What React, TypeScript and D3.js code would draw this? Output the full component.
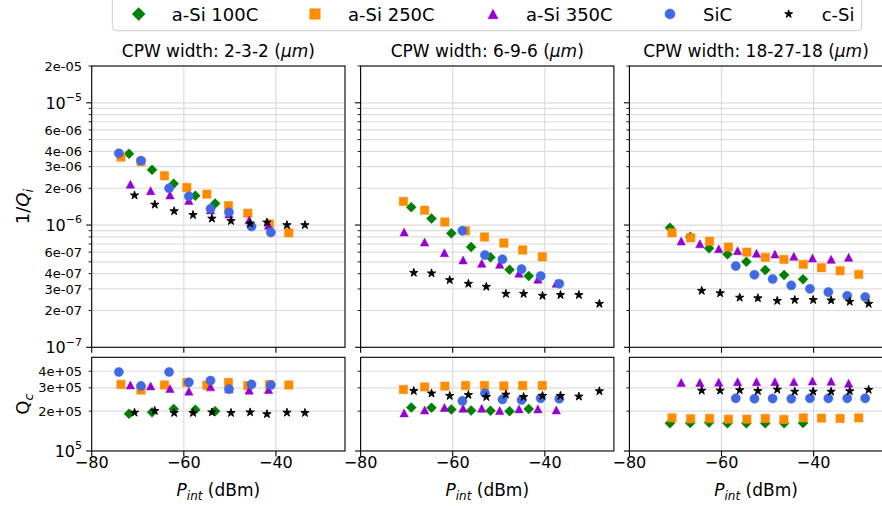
import React from 'react';
import * as d3 from 'd3';

// ---------- data ----------
const panelWidths = ['2-3-2', '6-9-6', '18-27-18'];
const seriesNames = ['a-Si 100C', 'a-Si 250C', 'a-Si 350C', 'SiC', 'c-Si'];
const seriesColors = ['#008000', '#ff8c00', '#9400d3', '#4169e1', '#000000'];
const seriesShapes = ['diamond', 'square', 'triangle', 'circle', 'star'];

const xTicks = [-80, -60, -40];
const invQiMajorTicks = [1e-7, 1e-6, 1e-5];
const invQiMinorLabels = [2e-7, 3e-7, 4e-7, 6e-7, 2e-6, 3e-6, 4e-6, 6e-6, 2e-5];
const invQiMinorLabelText = ['2e-07', '3e-07', '4e-07', '6e-07', '2e-06', '3e-06', '4e-06', '6e-06', '2e-05'];
const qcMajorTicks = [1e5];
const qcMinorTicks = [2e5, 3e5, 4e5];
const qcMinorLabelText = ['2e+05', '3e+05', '4e+05'];

// a-Si 100C
const aSi100C_P = [
  [-71.9, -66.9, -62.2, -57.5, -53.2],
  [-69.0, -64.6, -60.3, -56.0, -51.8, -47.65, -43.5],
  [-71.2, -66.8, -62.7, -58.7, -54.6, -50.5, -46.4, -42.3],
];
const aSi100C_invQi = [
  [3.83e-6, 2.83e-6, 2.18e-6, 1.74e-6, 1.5e-6],
  [1.4e-6, 1.13e-6, 0.855e-6, 0.661e-6, 0.545e-6, 0.431e-6, 0.383e-6],
  [0.95e-6, 0.802e-6, 0.645e-6, 0.576e-6, 0.5e-6, 0.428e-6, 0.39e-6, 0.36e-6],
];
const aSi100C_Qc = [
  [1.91e5, 1.96e5, 2.08e5, 2.05e5, 2.0e5],
  [2.13e5, 2.12e5, 2.06e5, 2.02e5, 2.01e5, 2.0e5, 2.08e5],
  [1.62e5, 1.63e5, 1.64e5, 1.62e5, 1.62e5, 1.62e5, 1.62e5, 1.63e5],
];

// a-Si 250C
const aSi250C_P = [
  [-73.65, -69.3, -64.2, -59.35, -55.0, -50.3, -46.1, -41.4, -37.2],
  [-70.7, -66.1, -61.7, -57.2, -53.1, -48.9, -44.8, -40.55],
  [-70.75, -66.7, -62.6, -58.5, -54.5, -50.5, -46.45, -42.25, -38.3, -34.25, -30.2],
];
const aSi250C_invQi = [
  [3.6e-6, 3.3e-6, 2.53e-6, 2.03e-6, 1.79e-6, 1.44e-6, 1.25e-6, 1.02e-6, 0.865e-6],
  [1.56e-6, 1.32e-6, 1.06e-6, 0.898e-6, 0.798e-6, 0.713e-6, 0.625e-6, 0.55e-6],
  [0.865e-6, 0.787e-6, 0.736e-6, 0.661e-6, 0.601e-6, 0.544e-6, 0.524e-6, 0.477e-6, 0.448e-6, 0.423e-6, 0.395e-6],
];
const aSi250C_Qc = [
  [3.18e5, 2.88e5, 3.15e5, 3.29e5, 3.14e5, 3.29e5, 3.12e5, 3.18e5, 3.15e5],
  [2.91e5, 3.05e5, 3.09e5, 3.12e5, 3.12e5, 3.1e5, 3.12e5, 3.12e5],
  [1.78e5, 1.75e5, 1.76e5, 1.74e5, 1.74e5, 1.76e5, 1.73e5, 1.78e5, 1.77e5, 1.76e5, 1.78e5],
];

// a-Si 350C
const aSi350C_P = [
  [-71.6, -67.2, -63.0, -58.9, -54.2, -50.2, -45.8, -41.6],
  [-70.55, -66.1, -61.8, -57.75, -53.7, -49.8, -45.6, -41.5, -37.5],
  [-68.75, -64.7, -60.6, -56.5, -52.4, -48.4, -44.3, -40.25, -36.2, -32.4],
];
const aSi350C_invQi = [
  [2.16e-6, 1.91e-6, 1.76e-6, 1.59e-6, 1.33e-6, 1.23e-6, 1.1e-6, 0.995e-6],
  [0.877e-6, 0.726e-6, 0.594e-6, 0.518e-6, 0.486e-6, 0.477e-6, 0.403e-6, 0.36e-6, 0.334e-6],
  [0.74e-6, 0.703e-6, 0.64e-6, 0.617e-6, 0.587e-6, 0.579e-6, 0.555e-6, 0.537e-6, 0.524e-6, 0.544e-6],
];
const aSi350C_Qc = [
  [3.15e5, 3.1e5, 2.96e5, 2.83e5, 3.05e5, 2.95e5, 2.88e5, 2.91e5],
  [1.94e5, 2.04e5, 2.13e5, 2.1e5, 2.1e5, 2.02e5, 2.08e5, 2.08e5, 2.04e5],
  [3.29e5, 3.29e5, 3.31e5, 3.34e5, 3.34e5, 3.34e5, 3.34e5, 3.38e5, 3.36e5, 3.25e5],
];

// SiC
const SiC_P = [
  [-74.1, -69.3, -63.2, -58.9, -54.2, -50.2, -45.3, -41.1],
  [-57.9, -53.0, -49.2, -45.05, -40.9, -36.85],
  [-56.9, -52.85, -48.9, -44.85, -40.8, -36.8, -32.7, -28.8],
];
const SiC_invQi = [
  [3.86e-6, 3.36e-6, 2.0e-6, 1.72e-6, 1.36e-6, 1.27e-6, 0.975e-6, 0.87e-6],
  [0.898e-6, 0.568e-6, 0.525e-6, 0.436e-6, 0.383e-6, 0.331e-6],
  [0.462e-6, 0.392e-6, 0.362e-6, 0.321e-6, 0.301e-6, 0.283e-6, 0.264e-6, 0.258e-6],
];
const SiC_Qc = [
  [3.95e5, 3.1e5, 3.95e5, 3.3e5, 3.4e5, 2.93e5, 3.18e5, 3.15e5],
  [2.39e5, 2.73e5, 2.45e5, 2.43e5, 2.5e5, 2.48e5],
  [2.5e5, 2.48e5, 2.49e5, 2.48e5, 2.5e5, 2.5e5, 2.5e5, 2.5e5],
];

// c-Si
const cSi_P = [
  [-70.7, -66.3, -62.1, -58.0, -53.9, -49.75, -45.6, -41.95, -37.6, -33.7],
  [-68.45, -64.6, -60.65, -56.6, -52.7, -48.45, -44.6, -40.5, -36.6, -32.6, -28.15],
  [-64.3, -60.3, -56.05, -52.1, -47.9, -44.1, -40.1, -36.2, -32.15, -28.05],
];
const cSi_invQi = [
  [1.75e-6, 1.47e-6, 1.3e-6, 1.21e-6, 1.13e-6, 1.08e-6, 1.03e-6, 1.05e-6, 1.0e-6, 1.0e-6],
  [0.407e-6, 0.403e-6, 0.355e-6, 0.331e-6, 0.313e-6, 0.274e-6, 0.274e-6, 0.264e-6, 0.268e-6, 0.268e-6, 0.227e-6],
  [0.29e-6, 0.277e-6, 0.255e-6, 0.252e-6, 0.24e-6, 0.244e-6, 0.244e-6, 0.242e-6, 0.236e-6, 0.227e-6],
];
const cSi_Qc = [
  [1.95e5, 2.01e5, 1.94e5, 1.94e5, 1.96e5, 1.94e5, 1.96e5, 1.9e5, 1.95e5, 1.94e5],
  [2.84e5, 2.72e5, 2.61e5, 2.65e5, 2.56e5, 2.67e5, 2.56e5, 2.61e5, 2.61e5, 2.58e5, 2.83e5],
  [2.86e5, 2.86e5, 2.88e5, 2.84e5, 2.91e5, 2.81e5, 2.81e5, 2.81e5, 2.83e5, 2.9e5],
];

const seriesP = [aSi100C_P, aSi250C_P, aSi350C_P, SiC_P, cSi_P];
const seriesInvQi = [aSi100C_invQi, aSi250C_invQi, aSi350C_invQi, SiC_invQi, cSi_invQi];
const seriesQc = [aSi100C_Qc, aSi250C_Qc, aSi350C_Qc, SiC_Qc, cSi_Qc];

// ---------- layout ----------
const W = 882;
const H = 506;
const panelLeft = [91.7, 360.6, 629.4];
const panelW = 253.3;
const topY0 = 66;
const topY1 = 347.3;
const botY0 = 357.3;
const botY1 = 451;
const FONT = 'DejaVu Sans, sans-serif';
const GRID = '#dcdcdc';

const xScale = d3.scaleLinear().domain([-80, -25]).range([0, panelW]);
const yTop = d3.scaleLog().domain([1e-7, 2e-5]).range([topY1, topY0]);
const yBot = d3.scaleLog().domain([1e5, 5.1e5]).range([botY1, botY0]);

const topMinorTicks: number[] = [];
[1e-7, 1e-6, 1e-5].forEach((dec) => {
  for (let m = 2; m <= 9; m++) {
    const v = dec * m;
    if (v <= 2e-5 * 1.0001) topMinorTicks.push(v);
  }
});

function starPath(R: number) {
  const r = R * 0.381966;
  const pts: string[] = [];
  for (let i = 0; i < 10; i++) {
    const rad = i % 2 === 0 ? R : r;
    const a = -Math.PI / 2 + (i * Math.PI) / 5;
    pts.push(`${(rad * Math.cos(a)).toFixed(3)},${(rad * Math.sin(a)).toFixed(3)}`);
  }
  return 'M' + pts.join('L') + 'Z';
}

function markerPath(shape: string, k: number) {
  switch (shape) {
    case 'diamond': {
      const d = 5 * k;
      return `M0,${-d}L${d},0L0,${d}L${-d},0Z`;
    }
    case 'square': {
      const s = 4.2 * k;
      return `M${-s},${-s}L${s},${-s}L${s},${s}L${-s},${s}Z`;
    }
    case 'triangle': {
      const w = 4.2 * k;
      const h = 4.0 * k;
      return `M0,${-h}L${w},${h}L${-w},${h}Z`;
    }
    case 'circle': {
      const r = 4.6 * k;
      return `M${r},0A${r},${r} 0 1,1 ${-r},0A${r},${r} 0 1,1 ${r},0Z`;
    }
    default:
      return starPath(4.4 * k);
  }
}

const legendTextX = [171.7, 348, 526, 703, 821.7];
const legendScale = [1.3, 1.25, 1.2, 1.1, 0.95];

function Panel({ idx }: { idx: number }) {
  const left = panelLeft[idx];
  const cx = left + panelW / 2;
  const clipTop = `clipTop${idx}`;
  const clipBot = `clipBot${idx}`;
  return (
    <g>
      <defs>
        <clipPath id={clipTop}>
          <rect x={left} y={topY0} width={panelW} height={topY1 - topY0} />
        </clipPath>
        <clipPath id={clipBot}>
          <rect x={left} y={botY0} width={panelW} height={botY1 - botY0} />
        </clipPath>
      </defs>
      {/* title */}
      <text x={cx} y={57} textAnchor="middle" fontSize={17} fontFamily={FONT} fill="#000">
        CPW width: {panelWidths[idx]} (<tspan fontStyle="italic">μm</tspan>)
      </text>

      {/* top panel grid */}
      <g clipPath={`url(#${clipTop})`}>
        {[...invQiMajorTicks, ...topMinorTicks].map((v, i) => (
          <line key={'hg' + i} x1={left} x2={left + panelW} y1={yTop(v)} y2={yTop(v)} stroke={GRID} strokeWidth={1.2} />
        ))}
        {xTicks.map((t) => (
          <line key={'vg' + t} x1={left + xScale(t)} x2={left + xScale(t)} y1={topY0} y2={topY1} stroke={GRID} strokeWidth={1.2} />
        ))}
      </g>
      {/* bottom panel grid */}
      <g clipPath={`url(#${clipBot})`}>
        {[...qcMajorTicks, ...qcMinorTicks].map((v, i) => (
          <line key={'hb' + i} x1={left} x2={left + panelW} y1={yBot(v)} y2={yBot(v)} stroke={GRID} strokeWidth={1.2} />
        ))}
        {xTicks.map((t) => (
          <line key={'vb' + t} x1={left + xScale(t)} x2={left + xScale(t)} y1={botY0} y2={botY1} stroke={GRID} strokeWidth={1.2} />
        ))}
      </g>

      {/* markers top */}
      <g clipPath={`url(#${clipTop})`}>
        {seriesNames.map((name, s) =>
          seriesP[s][idx].map((p, j) => (
            <path
              key={name + 't' + j}
              d={markerPath(seriesShapes[s], 1)}
              transform={`translate(${left + xScale(p)},${yTop(seriesInvQi[s][idx][j])})`}
              fill={seriesColors[s]}
              stroke={seriesColors[s]}
              strokeWidth={seriesShapes[s] === 'star' ? 0.9 : 0.5}
              strokeLinejoin="round"
            />
          ))
        )}
      </g>
      {/* markers bottom */}
      <g clipPath={`url(#${clipBot})`}>
        {seriesNames.map((name, s) =>
          seriesP[s][idx].map((p, j) => (
            <path
              key={name + 'b' + j}
              d={markerPath(seriesShapes[s], 1)}
              transform={`translate(${left + xScale(p)},${yBot(seriesQc[s][idx][j])})`}
              fill={seriesColors[s]}
              stroke={seriesColors[s]}
              strokeWidth={seriesShapes[s] === 'star' ? 0.9 : 0.5}
              strokeLinejoin="round"
            />
          ))
        )}
      </g>

      {/* spines */}
      <rect x={left} y={topY0} width={panelW} height={topY1 - topY0} fill="none" stroke="#000" strokeWidth={1.1} />
      <rect x={left} y={botY0} width={panelW} height={botY1 - botY0} fill="none" stroke="#000" strokeWidth={1.1} />

      {/* y ticks top */}
      {invQiMajorTicks.map((v) => (
        <line key={'ytM' + v} x1={left - 5.5} x2={left} y1={yTop(v)} y2={yTop(v)} stroke="#000" strokeWidth={1.1} />
      ))}
      {topMinorTicks.map((v, i) => (
        <line key={'ytm' + i} x1={left - 3} x2={left} y1={yTop(v)} y2={yTop(v)} stroke="#000" strokeWidth={0.9} />
      ))}
      {/* y ticks bottom */}
      {qcMajorTicks.map((v) => (
        <line key={'ybM' + v} x1={left - 5.5} x2={left} y1={yBot(v)} y2={yBot(v)} stroke="#000" strokeWidth={1.1} />
      ))}
      {qcMinorTicks.map((v, i) => (
        <line key={'ybm' + i} x1={left - 3} x2={left} y1={yBot(v)} y2={yBot(v)} stroke="#000" strokeWidth={0.9} />
      ))}
      {/* x ticks */}
      {xTicks.map((t) => (
        <g key={'xt' + t}>
          <line x1={left + xScale(t)} x2={left + xScale(t)} y1={topY1} y2={topY1 + 5.5} stroke="#000" strokeWidth={1.1} />
          <line x1={left + xScale(t)} x2={left + xScale(t)} y1={botY1} y2={botY1 + 5.5} stroke="#000" strokeWidth={1.1} />
          <text x={left + xScale(t)} y={468} textAnchor="middle" fontSize={16} fontFamily={FONT} fill="#000">
            {t < 0 ? '\u2212' + Math.abs(t) : String(t)}
          </text>
        </g>
      ))}
      {/* x label */}
      <text x={cx} y={496} textAnchor="middle" fontSize={17} fontFamily={FONT} fill="#000">
        <tspan fontStyle="italic">P</tspan>
        <tspan fontStyle="italic" fontSize={12} dy={3.5}>int</tspan>
        <tspan dy={-3.5}> (dBm)</tspan>
      </text>

      {/* y tick labels only on first panel */}
      {idx === 0 && (
        <g fontFamily={FONT} fill="#000">
          {invQiMajorTicks.map((v) => (
            <text key={'ylM' + v} x={82} y={yTop(v) + 5.8} textAnchor="end" fontSize={16}>
              10<tspan fontSize={11} dy={-7.5}>{'\u2212' + Math.round(-Math.log10(v))}</tspan>
            </text>
          ))}
          {invQiMinorLabels.map((v, i) => (
            <text key={'ylm' + i} x={82} y={yTop(v) + 4.6} textAnchor="end" fontSize={13}>
              {invQiMinorLabelText[i]}
            </text>
          ))}
          {qcMajorTicks.map((v) => (
            <text key={'yqM' + v} x={82} y={yBot(v) + 5.8} textAnchor="end" fontSize={16}>
              10<tspan fontSize={11} dy={-7.5}>{String(Math.round(Math.log10(v)))}</tspan>
            </text>
          ))}
          {qcMinorTicks.map((v, i) => (
            <text key={'yqm' + i} x={82} y={yBot(v) + 4.6} textAnchor="end" fontSize={13}>
              {qcMinorLabelText[i]}
            </text>
          ))}
          <text transform={`translate(29,${(topY0 + topY1) / 2}) rotate(-90)`} textAnchor="middle" fontSize={18}>
            1/<tspan fontStyle="italic">Q</tspan>
            <tspan fontStyle="italic" fontSize={12.5} dy={3.5}>i</tspan>
          </text>
          <text transform={`translate(29,${(botY0 + botY1) / 2}) rotate(-90)`} textAnchor="middle" fontSize={18}>
            Q<tspan fontStyle="italic" fontSize={12.5} dy={3.5}>c</tspan>
          </text>
        </g>
      )}
    </g>
  );
}

export default function App() {
  return (
    <svg
      width={W}
      height={H}
      style={{ position: 'absolute', left: 0, top: 0, background: '#fff' }}
      xmlns="http://www.w3.org/2000/svg"
    >
      <rect x={0} y={0} width={W} height={H} fill="#fff" />
      {[0, 1, 2].map((i) => (
        <Panel key={i} idx={i} />
      ))}
      {/* legend */}
      <rect x={112.3} y={-6} width={749.4} height={36.7} rx={4} fill="#fff" fillOpacity={0.85} stroke="#cccccc" strokeWidth={1} />
      {seriesNames.map((name, s) => (
        <g key={'lg' + name}>
          <path
            d={markerPath(seriesShapes[s], legendScale[s])}
            transform={`translate(${legendTextX[s] - 33},14)`}
            fill={seriesColors[s]}
            stroke={seriesColors[s]}
            strokeWidth={seriesShapes[s] === 'star' ? 0.9 : 0.5}
            strokeLinejoin="round"
          />
          <text x={legendTextX[s]} y={20.5} fontSize={18} fontFamily={FONT} fill="#000">
            {name}
          </text>
        </g>
      ))}
    </svg>
  );
}
